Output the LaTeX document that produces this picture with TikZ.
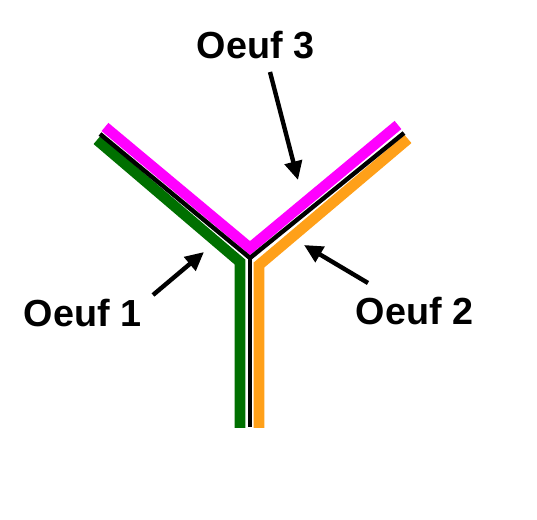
\documentclass[tikz,border=0pt]{standalone}
\usepackage{fontspec}
\setmainfont{Liberation Sans}
\usetikzlibrary{arrows.meta}
\definecolor{pinkc}{RGB}{255,0,255}
\definecolor{greenc}{RGB}{0,112,0}
\definecolor{orangec}{RGB}{255,160,25}
\tikzset{
  chain/.style={line width=8pt, line cap=butt, line join=miter},
  blackline/.style={line width=3.3pt, line cap=butt, line join=miter, black},
  lab/.style={inner sep=0pt, anchor=base west, font=\fontsize{28.3pt}{30pt}\selectfont\bfseries},
  pointer/.style={line width=3.3pt, -{Triangle[length=14pt,width=13pt]}},
}
\begin{document}
\begin{tikzpicture}[x=0.75pt,y=-0.75pt]
\useasboundingbox[fill=white] (0,0) rectangle (537,520);
% chains
\draw[chain, greenc] (97,140) -- (240,262) -- (240,428);
\draw[chain, orangec] (408,139) -- (259,265) -- (259,428);
\draw[chain, pinkc] (105,127) -- (250,248) -- (398,125);
\coordinate (bv) at (250,258);
\draw[blackline] (100,134) -- (bv) -- (404,133);
\draw[blackline] (bv) -- (250,427);
% labels
\node[lab] (o3) at (196.5,59) {Oeuf 3};
\node[lab] (o1) at (23.5,327) {Oeuf 1};
\node[lab] (o2) at (355.5,325) {Oeuf 2};
% arrows
\coordinate (a3s) at (270,72);
\coordinate (a3e) at (298,180);
\coordinate (a1s) at (153,295);
\coordinate (a1e) at (204,252);
\coordinate (a2s) at (368,283);
\coordinate (a2e) at (304,245);
\draw[pointer] (a3s) -- (a3e);
\draw[pointer] (a1s) -- (a1e);
\draw[pointer] (a2s) -- (a2e);
\end{tikzpicture}
\end{document}
